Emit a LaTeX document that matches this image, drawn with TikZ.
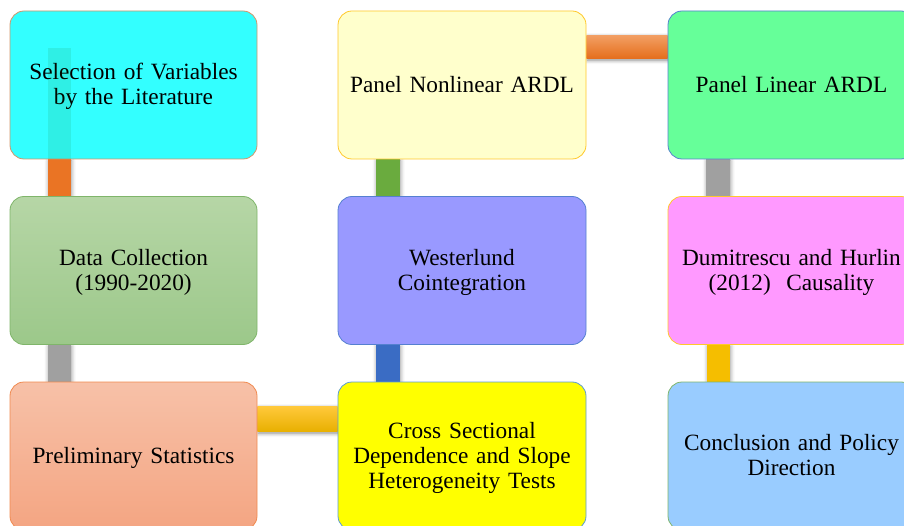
\documentclass[tikz,border=0pt]{standalone}
\usepackage{fontspec}
\setmainfont{Liberation Serif}
\usetikzlibrary{backgrounds,shadows.blur}
\definecolor{fCyan}{HTML}{33FFFF}
\definecolor{dCyan}{HTML}{D4956A}
\definecolor{tintCyan}{HTML}{0E6406}
\definecolor{fGreenT}{HTML}{B6D6A6}
\definecolor{fGreenB}{HTML}{9CC88A}
\definecolor{dGreen}{HTML}{7FB56A}
\definecolor{fSalmonT}{HTML}{F7C1A8}
\definecolor{fSalmonB}{HTML}{F4A582}
\definecolor{dSalmon}{HTML}{F08A50}
\definecolor{fLYellow}{HTML}{FFFFCC}
\definecolor{dGold}{HTML}{FFC82A}
\definecolor{fViolet}{HTML}{9999FF}
\definecolor{dBlue}{HTML}{5580D0}
\definecolor{fYellow}{HTML}{FFFF00}
\definecolor{dLBlue}{HTML}{5B9BD5}
\definecolor{fMint}{HTML}{66FF99}
\definecolor{fPink}{HTML}{FF99FF}
\definecolor{fSky}{HTML}{99CCFF}
\definecolor{barOrange}{HTML}{EA7424}
\definecolor{barOrangeT}{HTML}{F29E62}
\definecolor{barOrangeB}{HTML}{E56E1C}
\definecolor{barGrey}{HTML}{A0A0A0}
\definecolor{barYellowT}{HTML}{FFC83A}
\definecolor{barYellowB}{HTML}{E8B000}
\definecolor{barBlue}{HTML}{3A6CC4}
\definecolor{barGreen}{HTML}{6AAB3E}
\definecolor{barGold}{HTML}{F5BE00}
\newcommand\boxstrut{\rule[-5.2pt]{0pt}{25pt}}
\begin{document}
\begin{tikzpicture}[x=1pt,y=1pt,
  box/.style={draw, line width=0.8pt, rounded corners=14pt,
    minimum width=247pt, minimum height=148pt, inner sep=0pt,
    text width=245pt, align=center,
    font=\fontsize{23.3}{25}\selectfont,
    execute at begin node=\boxstrut, execute at end node=\boxstrut},
  barshadow/.style={blur shadow={shadow xshift=1pt, shadow yshift=-1.5pt,
    shadow blur radius=4pt, shadow opacity=45}},
]
\useasboundingbox (0,0) rectangle (904,-526);
\clip (0,0) rectangle (904,-526);

% boxes
\node[box, fill=fCyan, draw=dCyan] (b1) at (133.5,-85)
  {Selection of Variables\\by the Literature};
\fill[tintCyan, fill opacity=0.1] ([xshift=38pt,yshift=-37pt]b1.north west) rectangle ([xshift=61pt,yshift=0.6pt]b1.south west);
\node[box, top color=fGreenT, bottom color=fGreenB, draw=dGreen] (b2) at (133.5,-270.5)
  {Data Collection\\(1990-2020)};
\node[box, top color=fSalmonT, bottom color=fSalmonB, draw=dSalmon] (b3) at (133.5,-456)
  {Preliminary Statistics};
\node[box, minimum width=248pt, fill=fLYellow, draw=dGold] (b4) at (462,-85)
  {Panel Nonlinear ARDL};
\node[box, minimum width=248pt, fill=fViolet, draw=dBlue] (b5) at (462,-270.5)
  {Westerlund\\Cointegration};
\node[box, minimum width=248pt, fill=fYellow, draw=dLBlue] (b6) at (462,-456)
  {Cross Sectional\\Dependence and Slope\\Heterogeneity Tests};
\node[box, fill=fMint, draw=dBlue] (b7) at (791.5,-85)
  {Panel Linear ARDL};
\node[box, fill=fPink, draw=dGold] (b8) at (791.5,-270.5)
  {Dumitrescu and Hurlin\\(2012)~~Causality};
\node[box, fill=fSky, draw=dGreen] (b9) at (791.5,-456)
  {Conclusion and Policy\\Direction};

% connectors
\begin{scope}[on background layer]
\path[barshadow, fill=barOrange] ([xshift=38pt]b1.south west) rectangle ([xshift=61pt]b2.north west);
\path[barshadow, fill=barGrey] ([xshift=38pt]b2.south west) rectangle ([xshift=61pt]b3.north west);
\path[barshadow, top color=barYellowT, bottom color=barYellowB] ([yshift=-25pt]b3.north east) rectangle ([yshift=-50pt]b6.north west);
\path[barshadow, fill=barBlue] ([xshift=38pt]b5.south west) rectangle ([xshift=62pt]b6.north west);
\path[barshadow, fill=barGreen] ([xshift=38pt]b4.south west) rectangle ([xshift=62pt]b5.north west);
\path[barshadow, top color=barOrangeT, bottom color=barOrangeB] ([yshift=-25pt]b4.north east) rectangle ([yshift=-48pt]b7.north west);
\path[barshadow, fill=barGrey] ([xshift=38pt]b7.south west) rectangle ([xshift=62pt]b8.north west);
\path[barshadow, fill=barGold] ([xshift=39pt]b8.south west) rectangle ([xshift=62pt]b9.north west);
\end{scope}
\end{tikzpicture}
\end{document}
